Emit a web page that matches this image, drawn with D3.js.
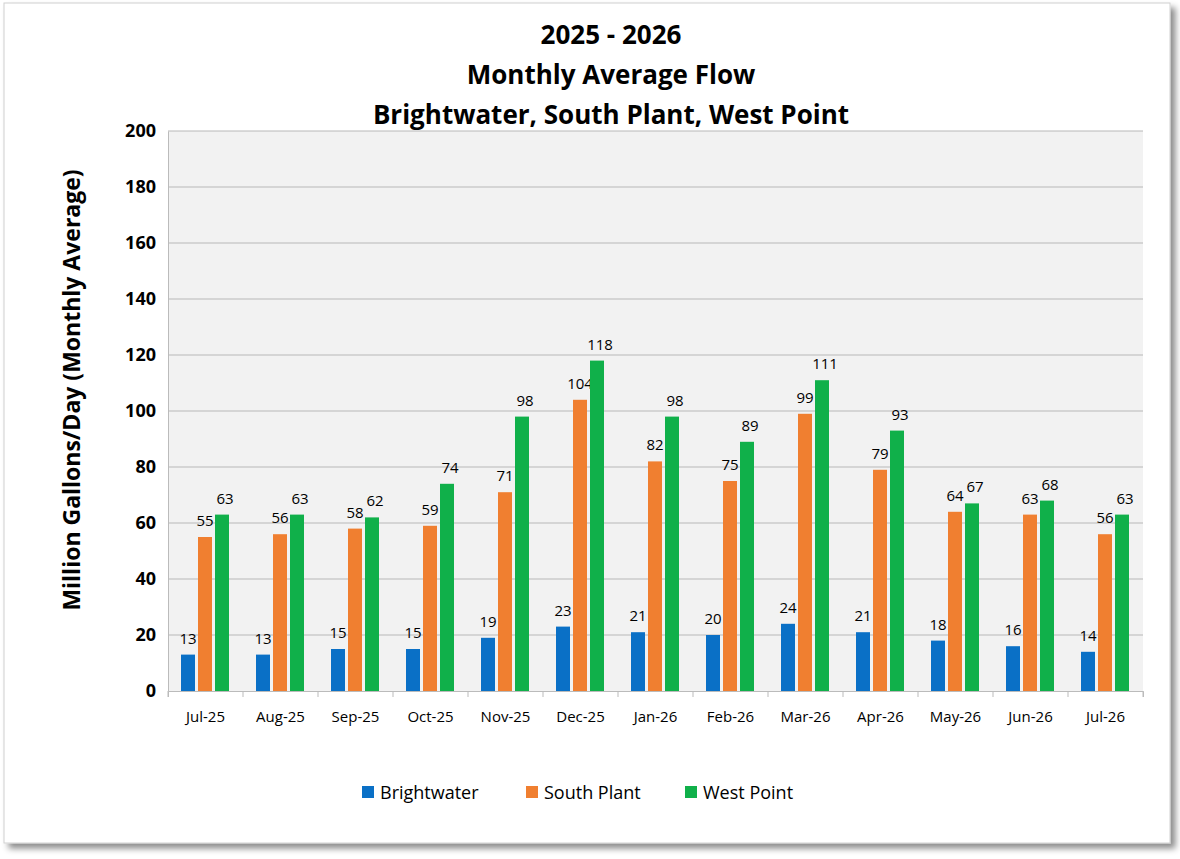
<!DOCTYPE html>
<html><head><meta charset="utf-8">
<script src="https://cdn.jsdelivr.net/npm/d3@7"></script>
<style>body{margin:0;background:#fff;font-family:"Open Sans",sans-serif;}</style>
</head><body>
<div id="chart"></div>
<script>
// monthly averages
const months = ["Jul-25","Aug-25","Sep-25","Oct-25","Nov-25","Dec-25","Jan-26","Feb-26","Mar-26","Apr-26","May-26","Jun-26","Jul-26"];
const brightwater = [13,13,15,15,19,23,21,20,24,21,18,16,14];
const southPlant = [55,56,58,59,71,104,82,75,99,79,64,63,56];
const westPoint = [63,63,62,74,98,118,98,89,111,93,67,68,63];
const seriesNames = ["Brightwater","South Plant","West Point"];
const colors = ["#0a70c6","#f07f30","#10b04a"];
const yTicks = [0,20,40,60,80,100,120,140,160,180,200];

const FONT = "'Open Sans',sans-serif";
const width = 1180, height = 859;
const svg = d3.select("#chart").append("svg").attr("width", width).attr("height", height)
  .attr("font-family", FONT);

const defs = svg.append("defs");
const f = defs.append("filter").attr("id","sh").attr("x","-5%").attr("y","-5%").attr("width","110%").attr("height","110%");
f.append("feDropShadow").attr("dx",5).attr("dy",5).attr("stdDeviation",3).attr("flood-color","#000").attr("flood-opacity",0.45);

svg.append("rect").attr("x",4).attr("y",3).attr("width",1166).attr("height",840)
  .attr("fill","#fff").attr("stroke","#d0d0d0").attr("filter","url(#sh)");

const plot = {left:168, right:1143, top:131, bottom:691};
const x = d3.scaleBand().domain(months).range([plot.left, plot.right]);
const y = d3.scaleLinear().domain([0,200]).range([plot.bottom, plot.top]);

svg.append("rect").attr("x",plot.left).attr("y",plot.top)
  .attr("width",plot.right-plot.left).attr("height",plot.bottom-plot.top).attr("fill","#f2f2f2");

svg.append("g").selectAll("line").data(yTicks.slice(1)).join("line")
  .attr("x1",plot.left).attr("x2",plot.right).attr("y1",d=>y(d)).attr("y2",d=>y(d))
  .attr("stroke","#b8b8b8").attr("stroke-width",1);

// axes
const yAxis = svg.append("g").attr("transform",`translate(${plot.left},0)`)
  .call(d3.axisLeft(y).tickValues(yTicks).tickSize(0).tickPadding(12));
yAxis.select(".domain").attr("stroke","#bbb");
yAxis.selectAll("text").attr("font-size",18).attr("font-weight","bold").attr("fill","#000")
  .attr("font-family",FONT);

const xAxis = svg.append("g").attr("transform",`translate(0,${plot.bottom})`)
  .call(d3.axisBottom(x).tickSizeOuter(0).tickSize(6).tickPadding(14));
xAxis.select(".domain").attr("stroke","#bbb");
xAxis.selectAll("line").attr("stroke","#bbb").attr("transform",`translate(${-x.bandwidth()/2},0)`);
xAxis.selectAll("text").attr("font-size",15).attr("fill","#000").attr("font-family",FONT);
svg.append("line").attr("x1",plot.right).attr("x2",plot.right).attr("y1",plot.bottom).attr("y2",plot.bottom+6).attr("stroke","#bbb");

// bars
const offsets = [13,30,47], barW = 14;
[brightwater, southPlant, westPoint].forEach((vals, s) => {
  const g = svg.append("g");
  g.selectAll("rect").data(vals).join("rect")
    .attr("x",(d,i)=>x(months[i])+offsets[s]).attr("width",barW)
    .attr("y",d=>y(d)).attr("height",d=>plot.bottom-y(d)).attr("fill",colors[s]);
  g.selectAll("text").data(vals).join("text")
    .attr("x",(d,i)=>x(months[i])+offsets[s]+barW/2 + (s===2?3:0)).attr("y",d=>y(d)-11)
    .attr("text-anchor","middle").attr("font-size",15).attr("fill","#000").text(d=>d);
});

// titles
["2025 - 2026","Monthly Average Flow","Brightwater, South Plant, West Point"].forEach((t,i)=>{
  svg.append("text").attr("x",611).attr("y",44+i*40).attr("text-anchor","middle")
    .attr("font-size",26).attr("font-weight","bold").text(t);
});

svg.append("text").attr("transform","translate(80,390) rotate(-90)").attr("text-anchor","middle")
  .attr("font-size",23).attr("font-weight","bold").text("Million Gallons/Day (Monthly Average)");

// legend
const legX = [362,526,685];
seriesNames.forEach((n,i)=>{
  svg.append("rect").attr("x",legX[i]).attr("y",786).attr("width",12).attr("height",12).attr("fill",colors[i]);
  svg.append("text").attr("x",legX[i]+18).attr("y",799).attr("font-size",18).text(n);
});
</script>
</body></html>
